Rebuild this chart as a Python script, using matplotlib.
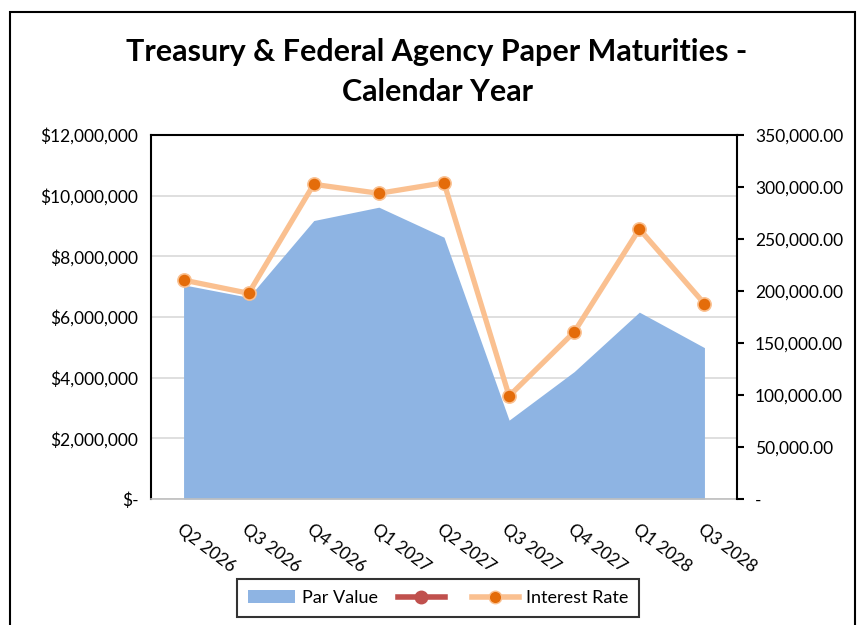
import matplotlib
matplotlib.use("Agg")
import matplotlib.pyplot as plt
from matplotlib.lines import Line2D
from matplotlib.patches import Patch, Rectangle
from matplotlib.ticker import FuncFormatter, FixedLocator

categories = ["Q2 2026", "Q3 2026", "Q4 2026", "Q1 2027", "Q2 2027",
              "Q3 2027", "Q4 2027", "Q1 2028", "Q3 2028"]
par_value = [7060000, 6650000, 9180000, 9620000, 8630000,
             2600000, 4200000, 6160000, 4990000]
interest_rate = [210500, 197800, 302600, 293900, 304100,
                 99000, 160600, 259600, 187800]
left_ticks = [0, 2000000, 4000000, 6000000, 8000000, 10000000, 12000000]
right_ticks = [0, 50000, 100000, 150000, 200000, 250000, 300000, 350000]

plt.rcParams['font.family'] = ['Lato', 'DejaVu Sans']

fig = plt.figure(figsize=(8.65, 6.25), dpi=100)
W, H = 865, 625
ax = fig.add_axes([151 / W, 1 - 499 / H, (737 - 151) / W, (499 - 135) / H])
ax2 = ax.twinx()

x = list(range(len(categories)))
ax.fill_between(x, par_value, 0, color="#8EB4E3", linewidth=0, zorder=2)
ax.set_xlim(-0.5, len(categories) - 0.5)
ax.set_ylim(0, 12000000)
ax.yaxis.set_major_locator(FixedLocator(left_ticks))
ax.yaxis.set_major_formatter(FuncFormatter(lambda v, p: "$-" if v == 0 else "${:,.0f}".format(v)))
ax.grid(axis="y", color="#D9D9D9", linewidth=1.2, zorder=0)
ax.set_axisbelow(True)
ax.tick_params(axis="y", length=0, labelsize=12.5, pad=9)
ax.set_xticks(x)
ax.set_xticklabels(categories, rotation=-37, ha="left", va="top", rotation_mode="anchor", fontsize=12.5)
ax.tick_params(axis="x", length=0, pad=16)
for s in ["left", "top"]:
    ax.spines[s].set_color("black")
    ax.spines[s].set_linewidth(1.5)
ax.spines["bottom"].set_color("#BFBFBF")
ax.spines["bottom"].set_linewidth(1.2)
ax.spines["right"].set_visible(False)

ax2.plot(x, interest_rate, color="#FAC090", linewidth=3.8, zorder=3, solid_capstyle="round")
ax2.plot(x, interest_rate, linestyle="none", marker="o", markersize=9.5,
         markerfacecolor="#E46C0A", markeredgecolor="#FAC090", markeredgewidth=1.2, zorder=4)
ax2.set_ylim(0, 350000)
ax2.yaxis.set_major_locator(FixedLocator(right_ticks))
ax2.yaxis.set_major_formatter(FuncFormatter(lambda v, p: "-" if v == 0 else "{:,.2f}".format(v)))
ax2.tick_params(axis="y", length=5, width=1.5, labelsize=12.5, pad=8)
ax2.spines["right"].set_color("black")
ax2.spines["right"].set_linewidth(1.5)
for s in ["left", "top", "bottom"]:
    ax2.spines[s].set_visible(False)

fig.text(437 / W, 1 - 52 / H, "Treasury & Federal Agency Paper Maturities -",
         ha="center", va="center", fontsize=22, fontweight="bold")
fig.text(437 / W, 1 - 92 / H, "Calendar Year",
         ha="center", va="center", fontsize=22, fontweight="bold")

handles = [Patch(facecolor="#8EB4E3", edgecolor="none"),
           Line2D([0], [0], color="#C0504D", linewidth=4, marker="o", markersize=9,
                  markerfacecolor="#C0504D", markeredgecolor="#C0504D"),
           Line2D([0], [0], color="#FAC090", linewidth=4, marker="o", markersize=9,
                  markerfacecolor="#E46C0A", markeredgecolor="#FAC090")]
labels = ["Par Value", "", "Interest Rate"]
leg = fig.legend(handles, labels, loc="center", bbox_to_anchor=(438 / W, 1 - 598 / H),
                 ncol=3, frameon=True, fancybox=False, edgecolor="black",
                 fontsize=13, handlelength=2.6, columnspacing=1.1, handletextpad=0.4,
                 borderpad=0.6, borderaxespad=0)
leg.get_frame().set_linewidth(1.5)

fig.patches.append(Rectangle((10 / W, -0.05), (855 - 10) / W, 1 - 12 / H + 0.05,
                             transform=fig.transFigure, fill=False,
                             edgecolor="black", linewidth=1.5, zorder=10))

fig.savefig("out.png", dpi=100)
